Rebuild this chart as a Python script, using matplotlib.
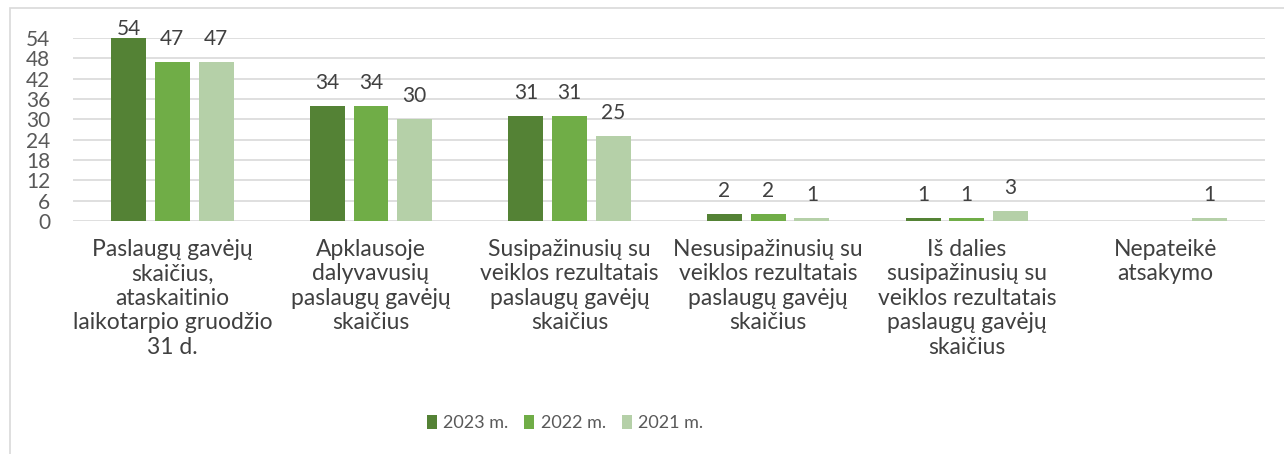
import matplotlib
matplotlib.use("Agg")
import matplotlib.pyplot as plt
import numpy as np
from matplotlib.patches import Rectangle

plt.rcParams['font.family'] = ['Lato', 'DejaVu Sans']

categories = [
    "Paslaugų gavėjų\nskaičius,\nataskaitinio\nlaikotarpio gruodžio\n31 d.",
    "Apklausoje\ndalyvavusių\npaslaugų gavėjų\nskaičius",
    "Susipažinusių su\nveiklos rezultatais\npaslaugų gavėjų\nskaičius",
    "Nesusipažinusių su\nveiklos rezultatais\npaslaugų gavėjų\nskaičius",
    "Iš dalies\nsusipažinusių su\nveiklos rezultatais\npaslaugų gavėjų\nskaičius",
    "Nepateikė\natsakymo",
]
series_names = ["2023 m.", "2022 m.", "2021 m."]
v2023 = [54, 34, 31, 2, 1, np.nan]
v2022 = [47, 34, 31, 2, 1, np.nan]
v2021 = [47, 30, 25, 1, 3, 1]
yticks = list(range(0, 55, 6))

colors = ["#548235", "#70AD47", "#B5D0A8"]
series = [v2023, v2022, v2021]

fig = plt.figure(figsize=(12.84, 4.54), dpi=100)
ax = fig.add_axes([0.0569, 0.5132, 0.985 - 0.0569, 0.9163 - 0.5132])

# outer chart frame
fig.patches.append(Rectangle((10 / 1284, -0.01), 1.02, 1 - 8 / 454 + 0.01,
                             transform=fig.transFigure, fill=False,
                             edgecolor="#D9D9D9", linewidth=1.2))

x = np.arange(len(categories))
width = 0.176
step = 0.22
label_off = 5.0      # gap between bar top and label baseline (data units)
label_max = 54.9     # labels are kept inside the chart area
for i, (vals, col, name) in enumerate(zip(series, colors, series_names)):
    pos = x + (i - 1) * step
    ax.bar(pos, np.nan_to_num(vals, nan=0.0), width=width, color=col,
           label=name, zorder=3)
    for p, v in zip(pos, vals):
        if not np.isnan(v):
            ax.text(p, min(v + label_off, label_max), f"{int(v)}",
                    ha="center", va="baseline", fontsize=15,
                    color="#404040", clip_on=False)

ax.set_xlim(-0.5, len(categories) - 0.5)
ax.set_ylim(0, 54)
ax.set_yticks(yticks)
ax.set_yticklabels([str(t) for t in yticks], fontsize=15, color="#595959")
ax.tick_params(axis="y", length=0, pad=16.5)
ax.set_xticks(x)
ax.set_xticklabels(categories, fontsize=16.5, color="#404040", linespacing=1.2)
ax.tick_params(axis="x", length=0, pad=13)
ax.yaxis.grid(True, color="#D9D9D9", linewidth=1.2, zorder=0)
ax.set_axisbelow(True)
for s in ax.spines.values():
    s.set_visible(False)

leg = fig.legend(loc="center", bbox_to_anchor=(565 / 1284, 1 - 423 / 454), ncol=3,
                 frameon=False, fontsize=13, handlelength=0.55,
                 handleheight=0.85, columnspacing=0.9, handletextpad=0.35)
for t in leg.get_texts():
    t.set_color("#595959")

fig.savefig("out.png", dpi=100)
